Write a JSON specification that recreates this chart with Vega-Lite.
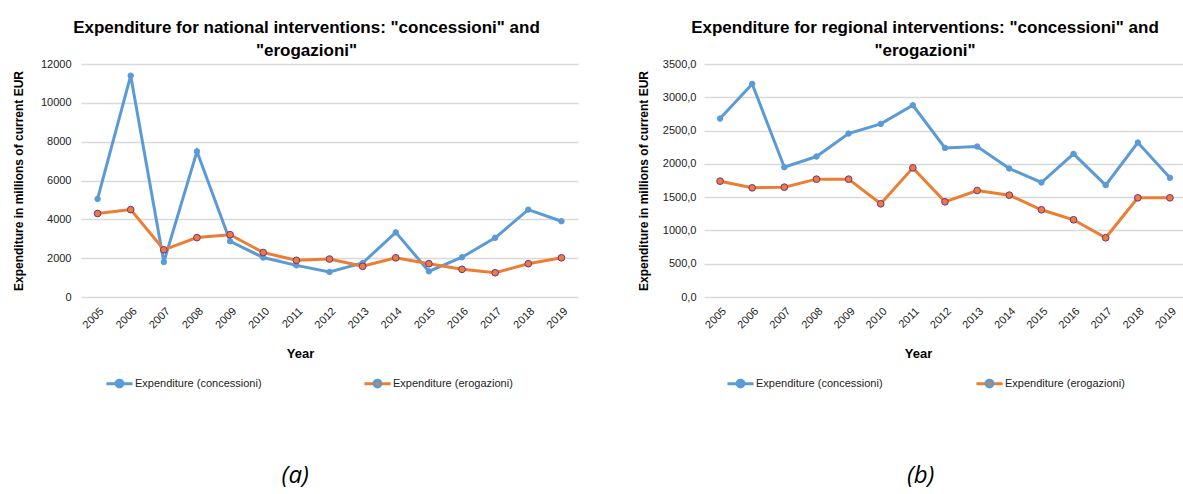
{
  "$schema": "https://vega.github.io/schema/vega-lite/v6.json",
  "padding": {"left": 12, "top": 19, "right": 0, "bottom": 4},
  "background": "white",
  "config": {
    "view": {"stroke": null},
    "font": "Liberation Sans",
    "axis": {"labelFont": "Liberation Sans", "labelFontSize": 11, "labelColor": "#222", "titleFont": "Liberation Sans", "titleFontWeight": "bold", "titleColor": "#000", "domain": false, "ticks": false, "gridColor": "#D9D9D9", "gridWidth": 1.5, "labelOverlap": false},
    "title": {"font": "Liberation Sans", "fontSize": 17, "fontWeight": "bold", "color": "#000", "lineHeight": 23},
    "legend": {"labelFont": "Liberation Sans", "labelFontSize": 11, "labelColor": "#222"}
  },
  "datasets": {
    "national": [
      {"year": "2005", "series": "Expenditure (concessioni)", "value": 5050},
      {"year": "2006", "series": "Expenditure (concessioni)", "value": 11400},
      {"year": "2007", "series": "Expenditure (concessioni)", "value": 1800},
      {"year": "2008", "series": "Expenditure (concessioni)", "value": 7500},
      {"year": "2009", "series": "Expenditure (concessioni)", "value": 2870},
      {"year": "2010", "series": "Expenditure (concessioni)", "value": 2030},
      {"year": "2011", "series": "Expenditure (concessioni)", "value": 1630},
      {"year": "2012", "series": "Expenditure (concessioni)", "value": 1290},
      {"year": "2013", "series": "Expenditure (concessioni)", "value": 1750},
      {"year": "2014", "series": "Expenditure (concessioni)", "value": 3330},
      {"year": "2015", "series": "Expenditure (concessioni)", "value": 1320},
      {"year": "2016", "series": "Expenditure (concessioni)", "value": 2050},
      {"year": "2017", "series": "Expenditure (concessioni)", "value": 3050},
      {"year": "2018", "series": "Expenditure (concessioni)", "value": 4500},
      {"year": "2019", "series": "Expenditure (concessioni)", "value": 3900},
      {"year": "2005", "series": "Expenditure (erogazioni)", "value": 4300},
      {"year": "2006", "series": "Expenditure (erogazioni)", "value": 4500},
      {"year": "2007", "series": "Expenditure (erogazioni)", "value": 2430},
      {"year": "2008", "series": "Expenditure (erogazioni)", "value": 3060},
      {"year": "2009", "series": "Expenditure (erogazioni)", "value": 3210},
      {"year": "2010", "series": "Expenditure (erogazioni)", "value": 2290},
      {"year": "2011", "series": "Expenditure (erogazioni)", "value": 1890},
      {"year": "2012", "series": "Expenditure (erogazioni)", "value": 1955},
      {"year": "2013", "series": "Expenditure (erogazioni)", "value": 1580},
      {"year": "2014", "series": "Expenditure (erogazioni)", "value": 2020},
      {"year": "2015", "series": "Expenditure (erogazioni)", "value": 1715},
      {"year": "2016", "series": "Expenditure (erogazioni)", "value": 1425},
      {"year": "2017", "series": "Expenditure (erogazioni)", "value": 1250},
      {"year": "2018", "series": "Expenditure (erogazioni)", "value": 1715},
      {"year": "2019", "series": "Expenditure (erogazioni)", "value": 2020}
    ],
    "regional": [
      {"year": "2005", "series": "Expenditure (concessioni)", "value": 2680},
      {"year": "2006", "series": "Expenditure (concessioni)", "value": 3200},
      {"year": "2007", "series": "Expenditure (concessioni)", "value": 1950},
      {"year": "2008", "series": "Expenditure (concessioni)", "value": 2110},
      {"year": "2009", "series": "Expenditure (concessioni)", "value": 2455},
      {"year": "2010", "series": "Expenditure (concessioni)", "value": 2600},
      {"year": "2011", "series": "Expenditure (concessioni)", "value": 2880},
      {"year": "2012", "series": "Expenditure (concessioni)", "value": 2240},
      {"year": "2013", "series": "Expenditure (concessioni)", "value": 2260},
      {"year": "2014", "series": "Expenditure (concessioni)", "value": 1930},
      {"year": "2015", "series": "Expenditure (concessioni)", "value": 1720},
      {"year": "2016", "series": "Expenditure (concessioni)", "value": 2150},
      {"year": "2017", "series": "Expenditure (concessioni)", "value": 1680},
      {"year": "2018", "series": "Expenditure (concessioni)", "value": 2320},
      {"year": "2019", "series": "Expenditure (concessioni)", "value": 1790},
      {"year": "2005", "series": "Expenditure (erogazioni)", "value": 1740},
      {"year": "2006", "series": "Expenditure (erogazioni)", "value": 1640},
      {"year": "2007", "series": "Expenditure (erogazioni)", "value": 1650},
      {"year": "2008", "series": "Expenditure (erogazioni)", "value": 1770},
      {"year": "2009", "series": "Expenditure (erogazioni)", "value": 1770},
      {"year": "2010", "series": "Expenditure (erogazioni)", "value": 1400},
      {"year": "2011", "series": "Expenditure (erogazioni)", "value": 1940},
      {"year": "2012", "series": "Expenditure (erogazioni)", "value": 1430},
      {"year": "2013", "series": "Expenditure (erogazioni)", "value": 1600},
      {"year": "2014", "series": "Expenditure (erogazioni)", "value": 1530},
      {"year": "2015", "series": "Expenditure (erogazioni)", "value": 1310},
      {"year": "2016", "series": "Expenditure (erogazioni)", "value": 1160},
      {"year": "2017", "series": "Expenditure (erogazioni)", "value": 890},
      {"year": "2018", "series": "Expenditure (erogazioni)", "value": 1490},
      {"year": "2019", "series": "Expenditure (erogazioni)", "value": 1490}
    ]
  },
  "spacing": 59,
  "resolve": {"scale": {"stroke": "independent", "fill": "independent"}, "legend": {"stroke": "independent", "fill": "independent"}},
  "hconcat": [
    {
      "title": {"text": "(a)", "orient": "bottom", "anchor": "middle", "font": "Open Sans", "fontStyle": "italic", "fontWeight": "normal", "fontSize": 24, "offset": 71},
      "vconcat": [
        {
          "width": 497,
          "height": 233,
          "title": {"text": ["Expenditure for national interventions: \"concessioni\" and", "\"erogazioni\""], "anchor": "middle", "dx": -23, "offset": -2},
          "data": {"name": "national"},
          "encoding": {
            "x": {"field": "year", "type": "ordinal", "scale": {"type": "point", "padding": 0.5}, "axis": {"labelAngle": -45, "labelPadding": 8, "title": "Year", "titleFontSize": 13, "titleX": 219, "titleY": 56, "titleBaseline": "middle"}},
            "y": {"field": "value", "type": "quantitative", "scale": {"domain": [0, 12000], "nice": false}, "axis": {"values": [0, 2000, 4000, 6000, 8000, 10000, 12000], "tickCount": 7, "format": "d", "labelPadding": 10, "labelFlush": false, "labelOverlap": false, "title": "Expenditure in millions of current EUR", "titleFontSize": 12, "titlePadding": 15}}
          },
          "layer": [
            {
              "mark": {"type": "line", "strokeWidth": 3},
              "encoding": {
                "stroke": {"field": "series", "type": "nominal", "scale": {"range": ["#5B9BD5", "#ED7D31"]}, "legend": {"orient": "none", "legendX": 24, "legendY": 305, "direction": "horizontal", "columns": 2, "columnPadding": 96, "title": null, "symbolType": "M-1,0L1,0", "symbolSize": 676, "symbolStrokeWidth": 3, "labelOffset": 1}}
              }
            },
            {
              "mark": {"type": "point", "filled": true, "shape": "circle", "strokeWidth": 1, "opacity": 1},
              "encoding": {
                "size": {"condition": {"test": "datum.series === 'Expenditure (erogazioni)'", "value": 45}, "value": 30},
                "fill": {"field": "series", "type": "nominal", "scale": {"domain": ["Expenditure (concessioni)", "Expenditure (erogazioni)"], "range": ["#5B9BD5", "#ED7D31"]}, "legend": {"orient": "none", "legendX": 24, "legendY": 305, "direction": "horizontal", "columns": 2, "columnPadding": 96, "title": null, "symbolType": "M-1,0L-0.99,0M0.99,0L1,0M-0.26,0A0.26,0.26,0,1,1,0.26,0A0.26,0.26,0,1,1,-0.26,0Z", "symbolSize": 676, "symbolStrokeWidth": 3, "labelOffset": 1, "labelOpacity": 0, "encode": {"symbols": {"update": {"strokeWidth": {"value": 1}, "stroke": {"signal": "datum.value === 'Expenditure (erogazioni)' ? '#7030A0' : '#5B9BD5'"}}}}}},
                "stroke": {"condition": {"test": "datum.series === 'Expenditure (erogazioni)'", "value": "#7030A0"}, "value": "#5B9BD5"}
              }
            }
          ]
        }
      ]
    },
    {
      "title": {"text": "(b)", "orient": "bottom", "anchor": "middle", "font": "Open Sans", "fontStyle": "italic", "fontWeight": "normal", "fontSize": 24, "offset": 71, "dx": 9},
      "vconcat": [
        {
          "width": 482,
          "height": 233,
          "title": {"text": ["Expenditure for regional interventions: \"concessioni\" and", "\"erogazioni\""], "anchor": "middle", "dx": -20, "offset": -2},
          "data": {"name": "regional"},
          "encoding": {
            "x": {"field": "year", "type": "ordinal", "scale": {"type": "point", "padding": 0.5}, "axis": {"labelAngle": -45, "labelPadding": 8, "title": "Year", "titleFontSize": 13, "titleX": 214, "titleY": 56, "titleBaseline": "middle"}},
            "y": {"field": "value", "type": "quantitative", "scale": {"domain": [0, 3500], "nice": false}, "axis": {"values": [0, 500, 1000, 1500, 2000, 2500, 3000, 3500], "tickCount": 8, "labelExpr": "replace(format(datum.value, '.1f'), '.', ',')", "labelPadding": 8, "labelFlush": false, "labelOverlap": false, "title": "Expenditure in millions of current EUR", "titleFontSize": 12, "titlePadding": 12}}
          },
          "layer": [
            {
              "mark": {"type": "line", "strokeWidth": 3},
              "encoding": {
                "stroke": {"field": "series", "type": "nominal", "scale": {"range": ["#5B9BD5", "#ED7D31"]}, "legend": {"orient": "none", "legendX": 22, "legendY": 305, "direction": "horizontal", "columns": 2, "columnPadding": 87, "title": null, "symbolType": "M-1,0L1,0", "symbolSize": 676, "symbolStrokeWidth": 3, "labelOffset": 1}}
              }
            },
            {
              "mark": {"type": "point", "filled": true, "shape": "circle", "strokeWidth": 1, "opacity": 1},
              "encoding": {
                "size": {"condition": {"test": "datum.series === 'Expenditure (erogazioni)'", "value": 45}, "value": 30},
                "fill": {"field": "series", "type": "nominal", "scale": {"domain": ["Expenditure (concessioni)", "Expenditure (erogazioni)"], "range": ["#5B9BD5", "#ED7D31"]}, "legend": {"orient": "none", "legendX": 22, "legendY": 305, "direction": "horizontal", "columns": 2, "columnPadding": 87, "title": null, "symbolType": "M-1,0L-0.99,0M0.99,0L1,0M-0.26,0A0.26,0.26,0,1,1,0.26,0A0.26,0.26,0,1,1,-0.26,0Z", "symbolSize": 676, "symbolStrokeWidth": 3, "labelOffset": 1, "labelOpacity": 0, "encode": {"symbols": {"update": {"strokeWidth": {"value": 1}, "stroke": {"signal": "datum.value === 'Expenditure (erogazioni)' ? '#7030A0' : '#5B9BD5'"}}}}}},
                "stroke": {"condition": {"test": "datum.series === 'Expenditure (erogazioni)'", "value": "#7030A0"}, "value": "#5B9BD5"}
              }
            }
          ]
        }
      ]
    }
  ]
}
